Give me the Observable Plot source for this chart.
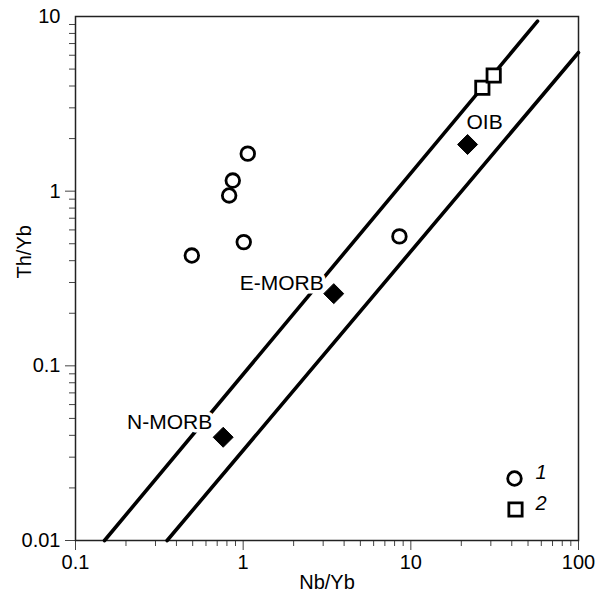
<!DOCTYPE html>
<html>
<head>
<meta charset="utf-8">
<script src="https://cdn.jsdelivr.net/npm/d3@7"></script>
<script src="https://cdn.jsdelivr.net/npm/@observablehq/plot@0.6"></script>
<style>
  html, body { margin: 0; padding: 0; background: white; }
</style>
</head>
<body>
<div id="chart"></div>
<script>
// ---- data ----
const xTitle = "Nb/Yb";
const yTitle = "Th/Yb";

// group 1 (circles)
const g1Nb = [1.065, 0.867, 0.825, 1.008, 0.494, 8.55];
const g1Th = [1.64, 1.15, 0.945, 0.511, 0.428, 0.551];
// group 2 (squares)
const g2Nb = [26.7, 31.2];
const g2Th = [3.91, 4.59];
// reference compositions (diamonds)
const refNames = ["N-MORB", "E-MORB", "OIB"];
const refNb = [0.76, 3.47, 21.8];
const refTh = [0.039, 0.259, 1.85];
// MORB-OIB array boundaries
const upperNb = [0.149, 57];
const upperTh = [0.01, 9.4];
const lowerNb = [0.352, 100];
const lowerTh = [0.01, 6.22];
// legend
const legendLabels = ["1", "2"];
// ticks
const xMajor = [0.1, 1, 10, 100];
const yMajor = [0.01, 0.1, 1, 10];
const minorOf = (majors) => majors.slice(0, -1).flatMap(m => [2,3,4,5,6,7,8,9].map(k => k * m));
const xMinor = minorOf(xMajor);
const yMinor = minorOf(yMajor);

// ---- tables ----
const g1 = g1Nb.map((x, i) => ({x, y: g1Th[i]}));
const g2 = g2Nb.map((x, i) => ({x, y: g2Th[i]}));
const refs = refNames.map((name, i) => ({name, x: refNb[i], y: refTh[i]}));
const upper = upperNb.map((x, i) => ({x, y: upperTh[i]}));
const lower = lowerNb.map((x, i) => ({x, y: lowerTh[i]}));

const tickColor = "#444";
const fmt = d => String(+d.toPrecision(6));

const labelStyle = {x: "x", y: "y", text: "name", fill: "black", stroke: "white", strokeWidth: 7, fontSize: 21};

const chart = Plot.plot({
  width: 598,
  height: 600,
  marginLeft: 75,
  marginTop: 16,
  marginRight: 20,
  marginBottom: 60,
  style: {fontFamily: "'Liberation Sans', Arial, Helvetica, sans-serif", fontSize: "20px", background: "white", color: "black"},
  x: {type: "log", domain: [0.1, 100]},
  y: {type: "log", domain: [0.01, 10]},
  marks: [
    Plot.axisX(xMinor, {tickSize: 6, tickFormat: () => "", stroke: tickColor, label: null}),
    Plot.axisY(yMinor, {tickSize: 6, tickFormat: () => "", stroke: tickColor, label: null}),
    Plot.axisX(xMajor, {tickSize: 10, tickPadding: 4, tickFormat: fmt, stroke: tickColor, label: null, fontSize: 20}),
    Plot.axisY(yMajor.filter(d => d !== 10), {tickSize: 10, tickPadding: 5, tickFormat: fmt, stroke: tickColor, label: null, fontSize: 20}),
    Plot.axisY([10], {tickSize: 0, tickPadding: 15, tickFormat: fmt, label: null, fontSize: 20}),
    Plot.frame({stroke: "#222", strokeWidth: 1.5}),
    Plot.line(upper, {x: "x", y: "y", stroke: "black", strokeWidth: 3.6}),
    Plot.line(lower, {x: "x", y: "y", stroke: "black", strokeWidth: 3.6}),
    Plot.text(refs.filter(d => d.name === "N-MORB"), {...labelStyle, textAnchor: "end", dx: -11, dy: -15}),
    Plot.text(refs.filter(d => d.name === "E-MORB"), {...labelStyle, textAnchor: "end", dx: -10, dy: -10}),
    Plot.text(refs.filter(d => d.name === "OIB"), {...labelStyle, textAnchor: "middle", dx: 17, dy: -22}),
    Plot.dot(refs, {x: "x", y: "y", symbol: "diamond2", r: 9, fill: "black", stroke: "black", strokeWidth: 1}),
    Plot.dot(g1, {x: "x", y: "y", symbol: "circle", r: 6.8, fill: "white", stroke: "black", strokeWidth: 2.8}),
    Plot.dot(g2, {x: "x", y: "y", symbol: "square", r: 7.5, fill: "white", stroke: "black", strokeWidth: 2.8}),
    // legend
    Plot.dot([legendLabels[0]], {frameAnchor: "bottom-right", dx: -64, dy: -62, symbol: "circle", r: 6.8, fill: "white", stroke: "black", strokeWidth: 2.8}),
    Plot.dot([legendLabels[1]], {frameAnchor: "bottom-right", dx: -63, dy: -31, symbol: "square", r: 7.5, fill: "white", stroke: "black", strokeWidth: 2.8}),
    Plot.text([legendLabels[0]], {frameAnchor: "bottom-right", dx: -43, dy: -62, text: d => d, textAnchor: "start", fontStyle: "italic", fontSize: 20}),
    Plot.text([legendLabels[1]], {frameAnchor: "bottom-right", dx: -43, dy: -31, text: d => d, textAnchor: "start", fontStyle: "italic", fontSize: 20}),
    // axis titles
    Plot.text([xTitle], {frameAnchor: "bottom", dy: 48, text: d => d, fontSize: 20}),
    Plot.text([yTitle], {frameAnchor: "left", dx: -51, rotate: -90, text: d => d, fontSize: 20})
  ]
});
document.getElementById("chart").appendChild(chart);
</script>
</body>
</html>
